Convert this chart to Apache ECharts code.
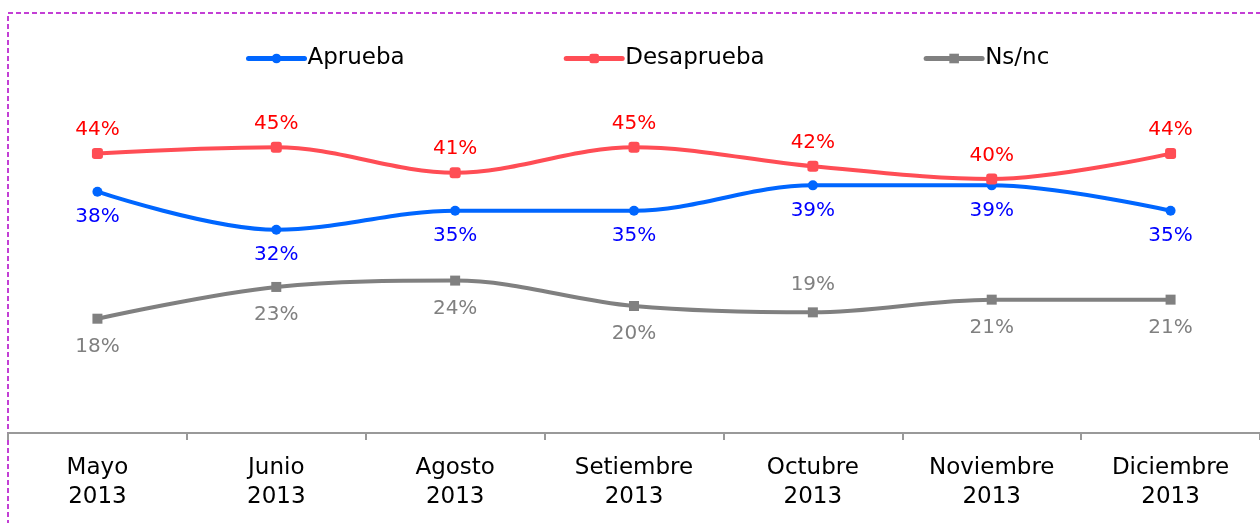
<!DOCTYPE html>
<html>
<head>
<meta charset="utf-8">
<script src="https://cdn.jsdelivr.net/npm/echarts@6/dist/echarts.min.js"></script>
<style>
  html, body { margin: 0; padding: 0; background: #fff; }
  #chart { width: 1260px; height: 523px; }
</style>
</head>
<body>
<div id="chart"></div>
<script>
const months = ['Mayo\n2013', 'Junio\n2013', 'Agosto\n2013', 'Setiembre\n2013', 'Octubre\n2013', 'Noviembre\n2013', 'Diciembre\n2013'];
const aprueba = [38, 32, 35, 35, 39, 39, 35];
const desaprueba = [44, 45, 41, 45, 42, 40, 44];
const nsnc = [18, 23, 24, 20, 19, 21, 21];
// label position per point for Ns/nc
const nsncPos = ['bottom', 'bottom', 'bottom', 'bottom', 'top', 'bottom', 'bottom'];

const font = 'DejaVu Sans';
const chart = echarts.init(document.getElementById('chart'));

chart.setOption({
  animation: false,
  textStyle: { fontFamily: font },
  graphic: [{
    type: 'rect',
    shape: { x: 8, y: 13, width: 1320, height: 600 },
    style: { fill: 'none', stroke: '#b000c8', lineWidth: 1.5, lineDash: [5, 3] },
    silent: true
  }],
  legend: {
    left: 241,
    top: 42,
    itemWidth: 56,
    itemHeight: 12,
    itemGap: 159,
    lineStyle: { width: 5, cap: 'round' },
    textStyle: { fontFamily: font, fontSize: 23, color: '#000', padding: [0, 0, 0, -2] }
  },
  grid: { left: 8, top: 52, width: 1255, bottom: 90 },
  xAxis: {
    type: 'category',
    data: months,
    boundaryGap: true,
    axisLine: { lineStyle: { color: '#999', width: 2 } },
    axisTick: { show: true, interval: 0, lineStyle: { color: '#999', width: 2 }, length: 7 },
    axisLabel: { fontFamily: font, fontSize: 23, color: '#000', lineHeight: 29, margin: 21 }
  },
  yAxis: { type: 'value', min: 0, max: 60, show: false },
  series: [
    {
      name: 'Aprueba', type: 'line', data: aprueba, smooth: 0.35,
      symbol: 'circle', symbolSize: 10,
      lineStyle: { color: '#0066ff', width: 4, cap: 'round' }, itemStyle: { color: '#0066ff' },
      label: { show: true, position: 'bottom', distance: 10, formatter: '{c}%', color: '#0000ff', fontSize: 20, fontFamily: font }
    },
    {
      name: 'Desaprueba', type: 'line', data: desaprueba, smooth: 0.35,
      symbol: 'roundRect', symbolSize: 11,
      lineStyle: { color: '#ff4d55', width: 4, cap: 'round' }, itemStyle: { color: '#ff4d55' },
      label: { show: true, position: 'top', distance: 8, formatter: '{c}%', color: '#ff0000', fontSize: 20, fontFamily: font }
    },
    {
      name: 'Ns/nc', type: 'line',
      data: nsnc.map((v, i) => ({ value: v, label: { position: nsncPos[i] } })),
      smooth: 0.35,
      symbol: 'rect', symbolSize: 10,
      lineStyle: { color: '#808080', width: 4, cap: 'round' }, itemStyle: { color: '#808080' },
      label: { show: true, distance: 13, formatter: '{c}%', color: '#808080', fontSize: 20, fontFamily: font }
    }
  ]
});
</script>
</body>
</html>
